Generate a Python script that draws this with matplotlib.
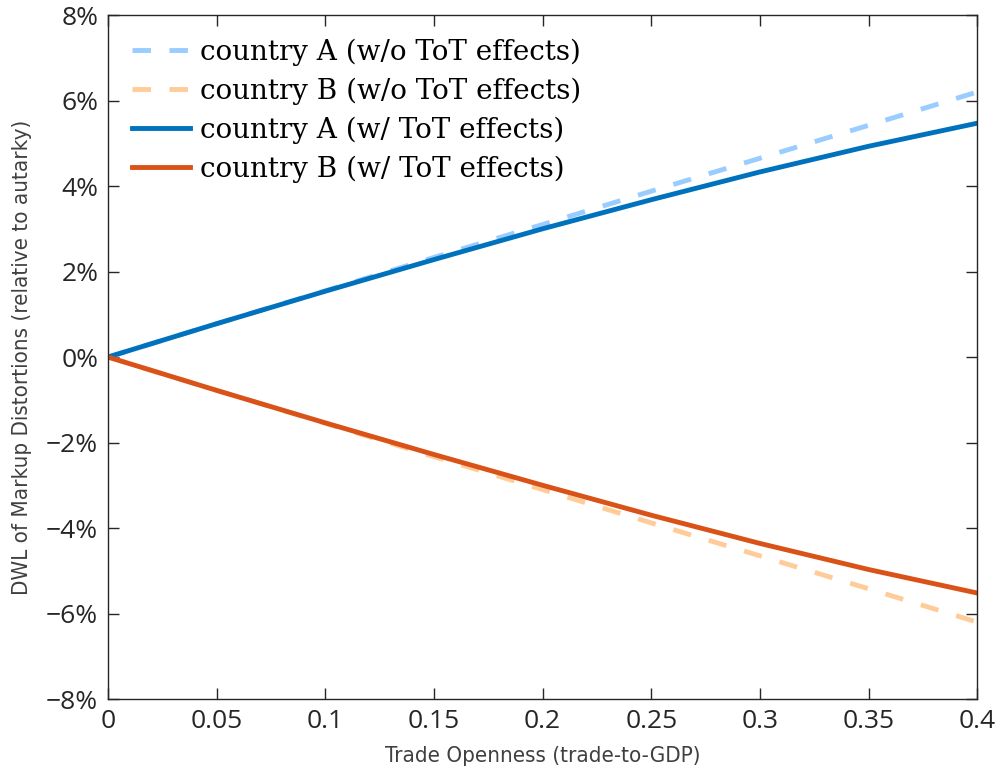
import matplotlib
matplotlib.use('Agg')
import matplotlib.pyplot as plt
import numpy as np
from matplotlib.ticker import FuncFormatter

# Данные (в процентах)
openness = [0, 0.05, 0.1, 0.15, 0.2, 0.25, 0.3, 0.35, 0.4]
a_no_tot = [0, 0.78, 1.55, 2.33, 3.1, 3.88, 4.65, 5.42, 6.2]
b_no_tot = [0, -0.78, -1.55, -2.33, -3.1, -3.88, -4.65, -5.42, -6.2]
a_tot = [0, 0.78, 1.54, 2.28, 3.0, 3.68, 4.33, 4.93, 5.47]
b_tot = [0, -0.78, -1.54, -2.28, -3.0, -3.70, -4.36, -4.97, -5.52]

labels = ['country A (w/o ToT effects)', 'country B (w/o ToT effects)',
          'country A (w/ ToT effects)', 'country B (w/ ToT effects)']

x_ticks = [0, 0.05, 0.1, 0.15, 0.2, 0.25, 0.3, 0.35, 0.4]
x_tick_labels = ['0', '0.05', '0.1', '0.15', '0.2', '0.25', '0.3', '0.35', '0.4']
y_ticks = [-8, -6, -4, -2, 0, 2, 4, 6, 8]

fig = plt.figure(figsize=(9.98, 7.75), dpi=100)
ax = fig.add_axes([0.1082, 0.098, 0.871, 0.8826])

lw = 3.5
ax.plot(openness, a_no_tot, color='#99CCFF', lw=lw, dashes=(3.8, 3.8), label=labels[0])
ax.plot(openness, b_no_tot, color='#FFCC99', lw=lw, dashes=(3.8, 3.8), label=labels[1])
ax.plot(openness, a_tot, '-', color='#0072BD', lw=lw, label=labels[2])
ax.plot(openness, b_tot, '-', color='#D95319', lw=lw, label=labels[3])

ax.set_xlim(0, 0.4)
ax.set_ylim(-8, 8)
ax.set_xticks(x_ticks)
ax.set_xticklabels(x_tick_labels)
ax.set_yticks(y_ticks)
ax.yaxis.set_major_formatter(FuncFormatter(lambda v, p: f'{v:.0f}%'.replace('-', '\u2212')))

tick_font = ['Open Sans', 'DejaVu Sans']
for lab in ax.get_xticklabels() + ax.get_yticklabels():
    lab.set_family(tick_font)
    lab.set_fontsize(19)
    lab.set_color('#262626')

ax.tick_params(direction='in', length=8, width=1, top=True, right=True,
               colors='#262626', pad=7)
for sp in ax.spines.values():
    sp.set_color('#262626')
    sp.set_linewidth(1)

label_font = ['Liberation Sans Narrow', 'DejaVu Sans']
ax.set_xlabel('Trade Openness (trade-to-GDP)', family=label_font, fontsize=16,
              stretch='condensed', color='#404040', labelpad=9)
ax.set_ylabel('DWL of Markup Distortions (relative to autarky)', family=label_font,
              fontsize=16, stretch='condensed', color='#404040', labelpad=10)

leg = ax.legend(loc='upper left', frameon=False, handlelength=2.1,
                prop={'family': ['DejaVu Serif'], 'size': 20},
                borderaxespad=0.45, labelspacing=0.42, handletextpad=0.35,
                borderpad=0.4)

fig.savefig('out.png', dpi=100)
